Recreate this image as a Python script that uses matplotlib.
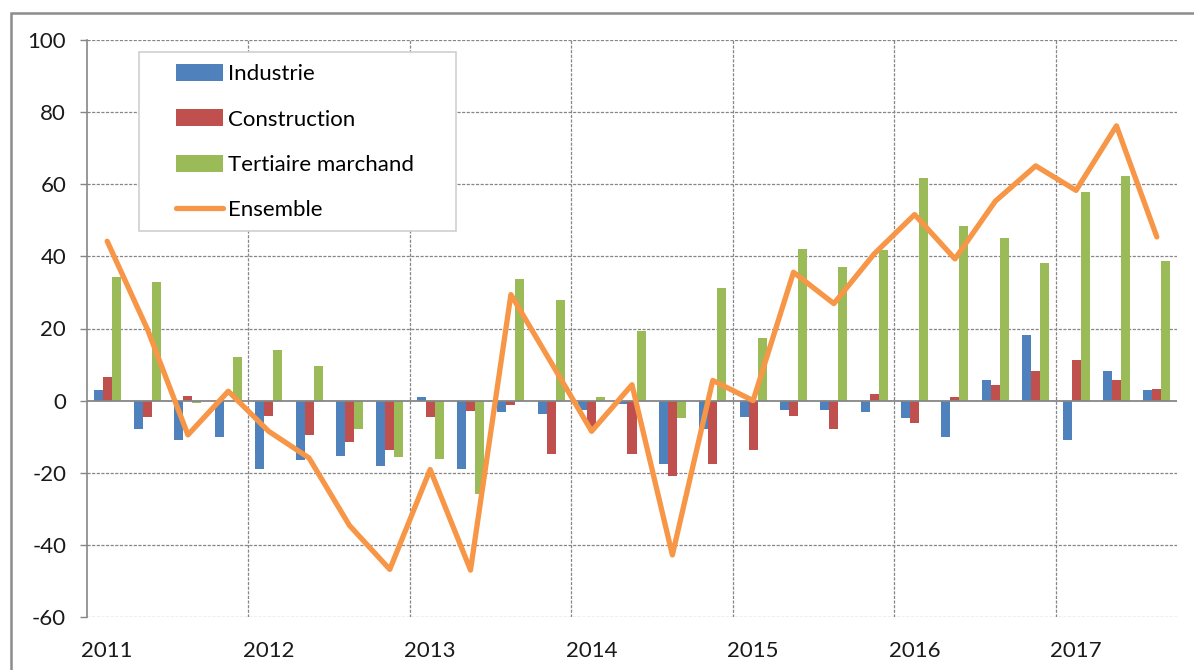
import numpy as np
import matplotlib
matplotlib.use("Agg")
import matplotlib.pyplot as plt
from matplotlib.patches import Rectangle

plt.rcParams['font.family'] = ['Lato', 'DejaVu Sans']
plt.rcParams['axes.unicode_minus'] = False

# quarterly data, 2011 Q1 -> 2017 Q3
years = ['2011', '2012', '2013', '2014', '2015', '2016', '2017']
industrie = [3.0, -7.9, -10.8, -10.1, -18.9, -16.4, -15.4, -18.1, 1.0, -18.9, -3.2, -3.7, -2.5, -0.8,
             -17.6, -8.0, -4.5, -2.5, -2.5, -3.1, -4.8, -10.1, 5.6, 18.1, -10.9, 8.3, 3.0]
construction = [6.5, -4.5, 1.4, 0.0, -4.2, -9.4, -11.4, -13.8, -4.5, -3.0, -1.2, -14.7, -7.5, -14.7,
                -21.0, -17.6, -13.6, -4.2, -7.8, 1.9, -6.2, 1.0, 4.3, 8.3, 11.2, 5.6, 3.2]
tertiaire = [34.2, 32.9, -0.7, 12.1, 13.9, 9.5, -7.9, -15.7, -16.2, -25.9, 33.8, 27.8, 1.0, 19.4,
             -4.8, 31.2, 17.4, 42.0, 37.0, 41.7, 61.7, 48.3, 45.0, 38.1, 57.9, 62.2, 38.8]
ensemble = [44.2, 19.7, -9.5, 2.6, -8.5, -15.9, -34.6, -46.8, -19.1, -47.0, 29.4, 10.5, -8.5, 4.4,
            -42.8, 5.6, 0.0, 35.6, 26.9, 40.7, 51.6, 39.3, 55.3, 65.1, 58.3, 76.2, 45.4]

c_ind = '#4F81BD'
c_con = '#C0504D'
c_ter = '#9BBB59'
c_ens = '#F79646'
grey = '#868686'

n = len(ensemble)
x = np.arange(n)
w = 0.223

fig = plt.figure(figsize=(11.94, 6.70), dpi=100)
ax = fig.add_axes([87/1194, 1 - 617/670, 1090/1194, 577/670])

b1 = ax.bar(x - w, industrie, w, color=c_ind, label='Industrie', zorder=2)
b2 = ax.bar(x, construction, w, color=c_con, label='Construction', zorder=2)
b3 = ax.bar(x + w, tertiaire, w, color=c_ter, label='Tertiaire marchand', zorder=2)
ax.axhline(0, color=grey, lw=1.3, zorder=2.5)
l1, = ax.plot(x, ensemble, color=c_ens, lw=3.8, label='Ensemble', zorder=3,
              solid_joinstyle='round', solid_capstyle='round')

ax.set_xlim(-0.5, n - 0.5)
ax.set_ylim(-60, 100)
ax.set_yticks(np.arange(-60, 101, 20))
ax.set_xticks(np.arange(0, n, 4))
ax.set_xticklabels(years)

# grid: horizontal every 20, vertical at year boundaries
for yv in np.arange(-60, 101, 20):
    if yv != 0:
        ax.axhline(yv, color=grey, lw=0.9, ls=(0, (2.5, 1.2)), zorder=0.5)
for xv in np.arange(3.5, n - 1, 4):
    ax.axvline(xv, color=grey, lw=0.9, ls=(0, (2.5, 1.2)), zorder=0.5)

for s in ['top', 'right', 'bottom']:
    ax.spines[s].set_visible(False)
ax.spines['left'].set_color(grey)
ax.spines['left'].set_linewidth(1.2)

ax.tick_params(axis='y', length=5, width=1, color=grey, pad=10, labelsize=16, labelcolor='#1a1a1a')
ax.tick_params(axis='x', length=0, pad=17, labelsize=16, labelcolor='#1a1a1a')

# legend frame drawn by hand for Excel-like padding
frame = Rectangle(((139 - 87)/1090, (617 - 231)/577), (456 - 139)/1090, (231 - 52)/577,
                  transform=ax.transAxes, facecolor='white', edgecolor='#d0d0d0', lw=1.2,
                  zorder=4.5, clip_on=False)
ax.add_patch(frame)
leg = ax.legend([b1, b2, b3, l1], ['Industrie', 'Construction', 'Tertiaire marchand', 'Ensemble'],
                loc='upper left', bbox_to_anchor=((176 - 87)/1090, (617 - 64)/577),
                frameon=False, fontsize=16, handlelength=2.1, handleheight=0.8, handletextpad=0.25,
                labelspacing=1.13, borderpad=0, borderaxespad=0)
leg.set_zorder(5)

# outer chart border
fig.patches.append(Rectangle((11/1194, -0.2), 1.5, 1.2 - 12.5/670, transform=fig.transFigure,
                             facecolor='none', edgecolor='#8c8c8c', lw=1.8))

fig.savefig('out.png', dpi=100)
